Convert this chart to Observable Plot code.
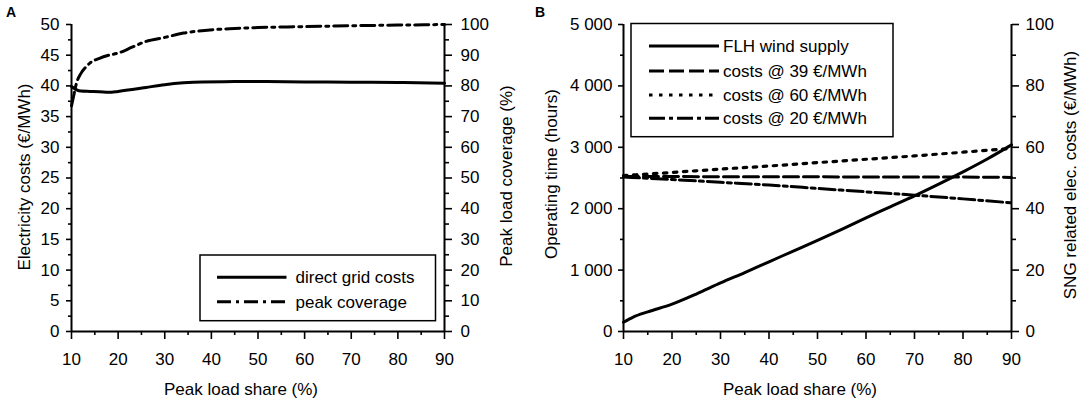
<!DOCTYPE html>
<html><head><meta charset="utf-8">
<script src="https://cdn.jsdelivr.net/npm/d3@7"></script>
<script src="https://cdn.jsdelivr.net/npm/@observablehq/plot@0.6"></script>
<style>
body{margin:0;background:#fff;}
#wrap{position:relative;width:1084px;height:402px;display:flex;}
#wrap > svg{display:block;overflow:visible;}
#overlay{position:absolute;left:0;top:0;pointer-events:none;}
</style></head><body><div id="wrap"></div>
<script>
// ---------- Panel A data ----------
const shareA_cost = [10,11,12,14,16,18,20,23,26,30,34,38,45,50,60,70,80,90];
const directGridCosts = [39.9,39.4,39.15,39.1,39.05,38.95,39.1,39.4,39.75,40.2,40.5,40.65,40.7,40.7,40.65,40.6,40.55,40.45];
const shareA_peak = [10,10.5,11,12,13,14,16,18,20,23,26,30,34,38,45,50,60,70,80,90];
const peakCoverage = [73.5,77,80.5,84,86,87.5,89,90,90.7,92.6,94.5,95.8,97.2,98,98.7,99,99.3,99.6,99.8,100];

// ---------- Panel B data ----------
const shareB = [10,12,15,20,25,30,35,40,45,50,55,60,65,70,75,80,85,90];
const flhWind = [150,235,320,445,610,790,960,1135,1310,1485,1665,1850,2030,2210,2400,2600,2810,3040];
const shareB10 = [10,20,30,40,50,60,70,80,90];
const cost39 = [50.5,50.5,50.4,50.4,50.4,50.3,50.3,50.3,50.2];
const cost60 = [50.8,51.8,52.9,53.9,55.0,56.1,57.2,58.4,59.6];
const cost20 = [50.3,49.5,48.6,47.7,46.6,45.5,44.4,43.2,41.9];

// ---------- ticks ----------
const xMajor = [10,20,30,40,50,60,70,80,90];
const xMinor = [15,25,35,45,55,65,75,85];
const aLeftMajor = [0,5,10,15,20,25,30,35,40,45,50];
const aLeftMinor = [2.5,7.5,12.5,17.5,22.5,27.5,32.5,37.5,42.5,47.5];
const aRightMajor = [0,10,20,30,40,50,60,70,80,90,100];
const aRightMinor = [5,15,25,35,45,55,65,75,85,95];
const bLeftMajor = [0,1000,2000,3000,4000,5000];
const bLeftMinor = [500,1500,2500,3500,4500];
const bRightMajor = [0,20,40,60,80,100];
const bRightMinor = [10,30,50,70,90];
const A_RATIO = 0.5;   // right axis (0-100 %) -> left axis (0-50 €/MWh)
const B_RATIO = 50;    // right axis (0-100 €/MWh) -> left axis (0-5000 h)

const font = "'Liberation Sans', Arial, sans-serif";
const style = {fontFamily: font, fontSize: "17px", color: "#000", background: "#fff", overflow: "visible"};
const fmtThousands = d => d === 0 ? "0" : d3.format(",")(d).replace(/,/g, " ");

const rows = (xs, ys, k = 1) => xs.map((x, i) => ({x, y: ys[i] * k}));

const DASH = "15,5", DOT = "3.5,6.5", DASHDOT = "16,4,4,4", DASHDOT_A = "14,5,3,5";

function axes(leftMaj, leftMin, rightMaj, rightMin, ratio, leftFmt, lPad, rPad) {
  return [
    Plot.axisX(xMajor, {anchor: "bottom", tickSize: 8, tickPadding: 13, strokeWidth: 1.6, label: null}),
    Plot.axisX(xMinor, {anchor: "bottom", tickSize: 4, tickFormat: () => "", strokeWidth: 1.6, label: null}),
    Plot.axisY(leftMaj, {anchor: "left", tickSize: 5, tickPadding: lPad, tickFormat: leftFmt, strokeWidth: 1.6, label: null}),
    Plot.axisY(leftMin, {anchor: "left", tickSize: 3, tickFormat: () => "", strokeWidth: 1.6, label: null}),
    Plot.axisY(rightMaj.map(v => v * ratio), {anchor: "right", tickSize: 7, tickPadding: rPad, tickFormat: d => String(Math.round(d / ratio)), strokeWidth: 1.6, label: null}),
    Plot.axisY(rightMin.map(v => v * ratio), {anchor: "right", tickSize: 4, tickFormat: () => "", strokeWidth: 1.6, label: null}),
    Plot.ruleX([10], {stroke: "#000", strokeWidth: 2}),
    Plot.ruleX([90], {stroke: "#000", strokeWidth: 2}),
    Plot.ruleY([0], {stroke: "#000", strokeWidth: 2})
  ];
}

const plotA = Plot.plot({
  width: 542, height: 402,
  marginLeft: 71, marginRight: 98, marginTop: 24, marginBottom: 71,
  x: {domain: [10, 90]}, y: {domain: [0, 50]},
  style,
  marks: [
    ...axes(aLeftMajor, aLeftMinor, aRightMajor, aRightMinor, A_RATIO, d => String(d), 7, 9),
    Plot.line(rows(shareA_cost, directGridCosts), {x: "x", y: "y", stroke: "#000", strokeWidth: 3, curve: "monotone-x"}),
    Plot.line(rows(shareA_peak, peakCoverage, A_RATIO), {x: "x", y: "y", stroke: "#000", strokeWidth: 3, strokeDasharray: DASHDOT_A, curve: "monotone-x"})
  ]
});

const plotB = Plot.plot({
  width: 542, height: 402,
  marginLeft: 81, marginRight: 73, marginTop: 24, marginBottom: 71,
  x: {domain: [10, 90]}, y: {domain: [0, 5000]},
  style,
  marks: [
    ...axes(bLeftMajor, bLeftMinor, bRightMajor, bRightMinor, B_RATIO, fmtThousands, 6, 7),
    Plot.line(rows(shareB10, cost39, B_RATIO), {x: "x", y: "y", stroke: "#000", strokeWidth: 3, strokeDasharray: DASH}),
    Plot.line(rows(shareB10, cost60, B_RATIO), {x: "x", y: "y", stroke: "#000", strokeWidth: 3.2, strokeDasharray: DOT, curve: "monotone-x"}),
    Plot.line(rows(shareB10, cost20, B_RATIO), {x: "x", y: "y", stroke: "#000", strokeWidth: 3, strokeDasharray: DASHDOT, curve: "monotone-x"}),
    Plot.line(rows(shareB, flhWind), {x: "x", y: "y", stroke: "#000", strokeWidth: 3, curve: "monotone-x"})
  ]
});

const wrap = document.getElementById("wrap");
wrap.appendChild(plotA);
wrap.appendChild(plotB);

// ---------- overlay: panel letters, axis titles, legends ----------
const ov = d3.select(wrap).append("svg").attr("id", "overlay")
  .attr("width", 1084).attr("height", 402)
  .style("font-family", font).style("font-size", "17px");

ov.append("text").attr("x", 6).attr("y", 16.7).attr("font-weight", "bold").attr("font-size", 14).text("A");
ov.append("text").attr("x", 535).attr("y", 16.7).attr("font-weight", "bold").attr("font-size", 14).text("B");

function vTitle(x, y, txt) {
  ov.append("text").attr("transform", `translate(${x},${y}) rotate(-90)`)
    .attr("text-anchor", "middle").text(txt);
}
vTitle(29.5, 177, "Electricity costs (€/MWh)");
vTitle(512, 176, "Peak load coverage (%)");
vTitle(557, 174, "Operating time (hours)");
vTitle(1075.5, 175, "SNG related elec. costs (€/MWh)");

ov.append("text").attr("x", 241).attr("y", 395).attr("text-anchor", "middle").text("Peak load share (%)");
ov.append("text").attr("x", 800).attr("y", 395).attr("text-anchor", "middle").text("Peak load share (%)");

function legend(box, x1, x2, tx, items) {
  ov.append("rect").attr("x", box[0]).attr("y", box[1]).attr("width", box[2] - box[0]).attr("height", box[3] - box[1])
    .attr("fill", "#fff").attr("stroke", "#000").attr("stroke-width", 1.5);
  for (const it of items) {
    ov.append("line").attr("x1", x1).attr("x2", x2).attr("y1", it.y).attr("y2", it.y)
      .attr("stroke", "#000").attr("stroke-width", 3).attr("stroke-dasharray", it.dash || null);
    ov.append("text").attr("x", tx).attr("y", it.y).attr("dy", "0.35em").text(it.label);
  }
}
const legendA = ["direct grid costs", "peak coverage"];
const legendB = ["FLH wind supply", "costs @ 39 €/MWh", "costs @ 60 €/MWh", "costs @ 20 €/MWh"];
legend([200, 255, 435.5, 320.7], 217, 286.5, 295.5, [
  {y: 277.3, label: legendA[0]},
  {y: 301.7, label: legendA[1], dash: DASHDOT_A}
]);
legend([631, 23.5, 893, 136.7], 649, 719, 723, [
  {y: 46, label: legendB[0]},
  {y: 71, label: legendB[1], dash: DASH},
  {y: 95, label: legendB[2], dash: DOT},
  {y: 118.3, label: legendB[3], dash: DASHDOT}
]);
</script></body></html>
